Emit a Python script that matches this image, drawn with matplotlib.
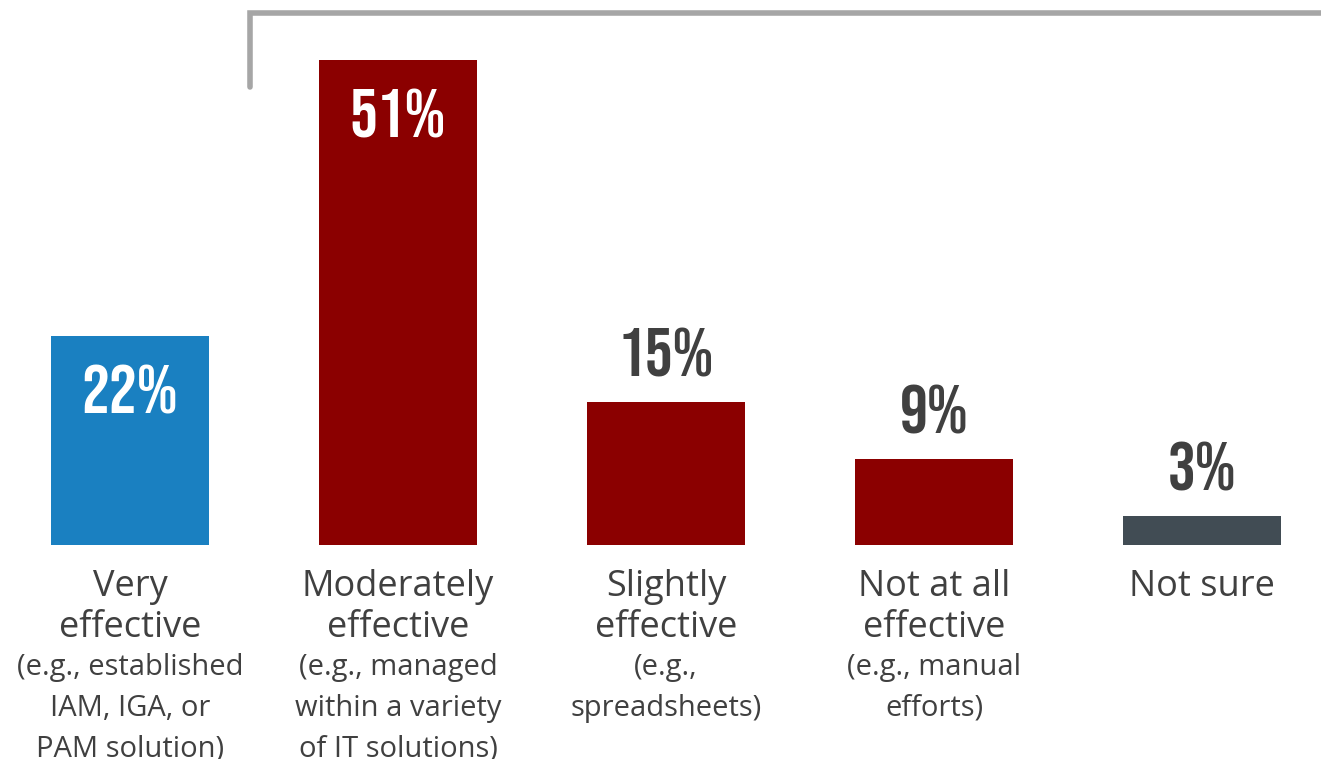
import matplotlib
matplotlib.use("Agg")
import matplotlib.pyplot as plt
from matplotlib.lines import Line2D

# Survey responses: how effective is identity management today
categories = ["Very\neffective", "Moderately\neffective", "Slightly\neffective",
              "Not at all\neffective", "Not sure"]
examples = ["(e.g., established\nIAM, IGA, or\nPAM solution)",
            "(e.g., managed\nwithin a variety\nof IT solutions)",
            "(e.g.,\nspreadsheets)",
            "(e.g., manual\nefforts)",
            ""]
shares = [22, 51, 15, 9, 3]
bar_colors = ["#1a80c1", "#8b0000", "#8b0000", "#8b0000", "#414c54"]
label_inside = [True, True, False, False, False]

TEXT = "#404040"
PCT_FONT = ["Bebas Neue", "Oswald", "DejaVu Sans"]
CAT_FONT = ["Open Sans", "DejaVu Sans"]

fig = plt.figure(figsize=(13.21, 7.59), dpi=100)
ax = fig.add_axes([0, 0, 1, 1])

x = list(range(len(shares)))
bars = ax.bar(x, shares, width=0.59, color=bar_colors, linewidth=0)

ax.set_xlim(-0.485, 4.444)
ax.set_ylim(-22.5, 57.3)
ax.axis("off")

for rect, val, inside in zip(bars, shares, label_inside):
    cx = rect.get_x() + rect.get_width() / 2
    if inside:
        ax.annotate(f"{val}%", (cx, val), xytext=(0, -21), textcoords="offset points",
                    ha="center", va="top", color="white", fontsize=50,
                    family=PCT_FONT)
    else:
        ax.annotate(f"{val}%", (cx, val), xytext=(0, 18), textcoords="offset points",
                    ha="center", va="bottom", color=TEXT, fontsize=50,
                    family=PCT_FONT)

for xi, cat, ex in zip(x, categories, examples):
    ax.text(xi, -2.5, cat, ha="center", va="top", color=TEXT, fontsize=26,
            linespacing=1.2, family=CAT_FONT)
    if ex:
        ax.text(xi, -11.4, ex, ha="center", va="top", color=TEXT, fontsize=21,
                linespacing=1.52, family=CAT_FONT)

# bracket over the right-hand group
bracket = Line2D([250, 250, 1321], [759 - 87, 759 - 13, 759 - 13],
                 transform=None, color="#a6a6a6", linewidth=4,
                 solid_capstyle="round", solid_joinstyle="miter")
fig.add_artist(bracket)

fig.savefig("out.png", dpi=100)
